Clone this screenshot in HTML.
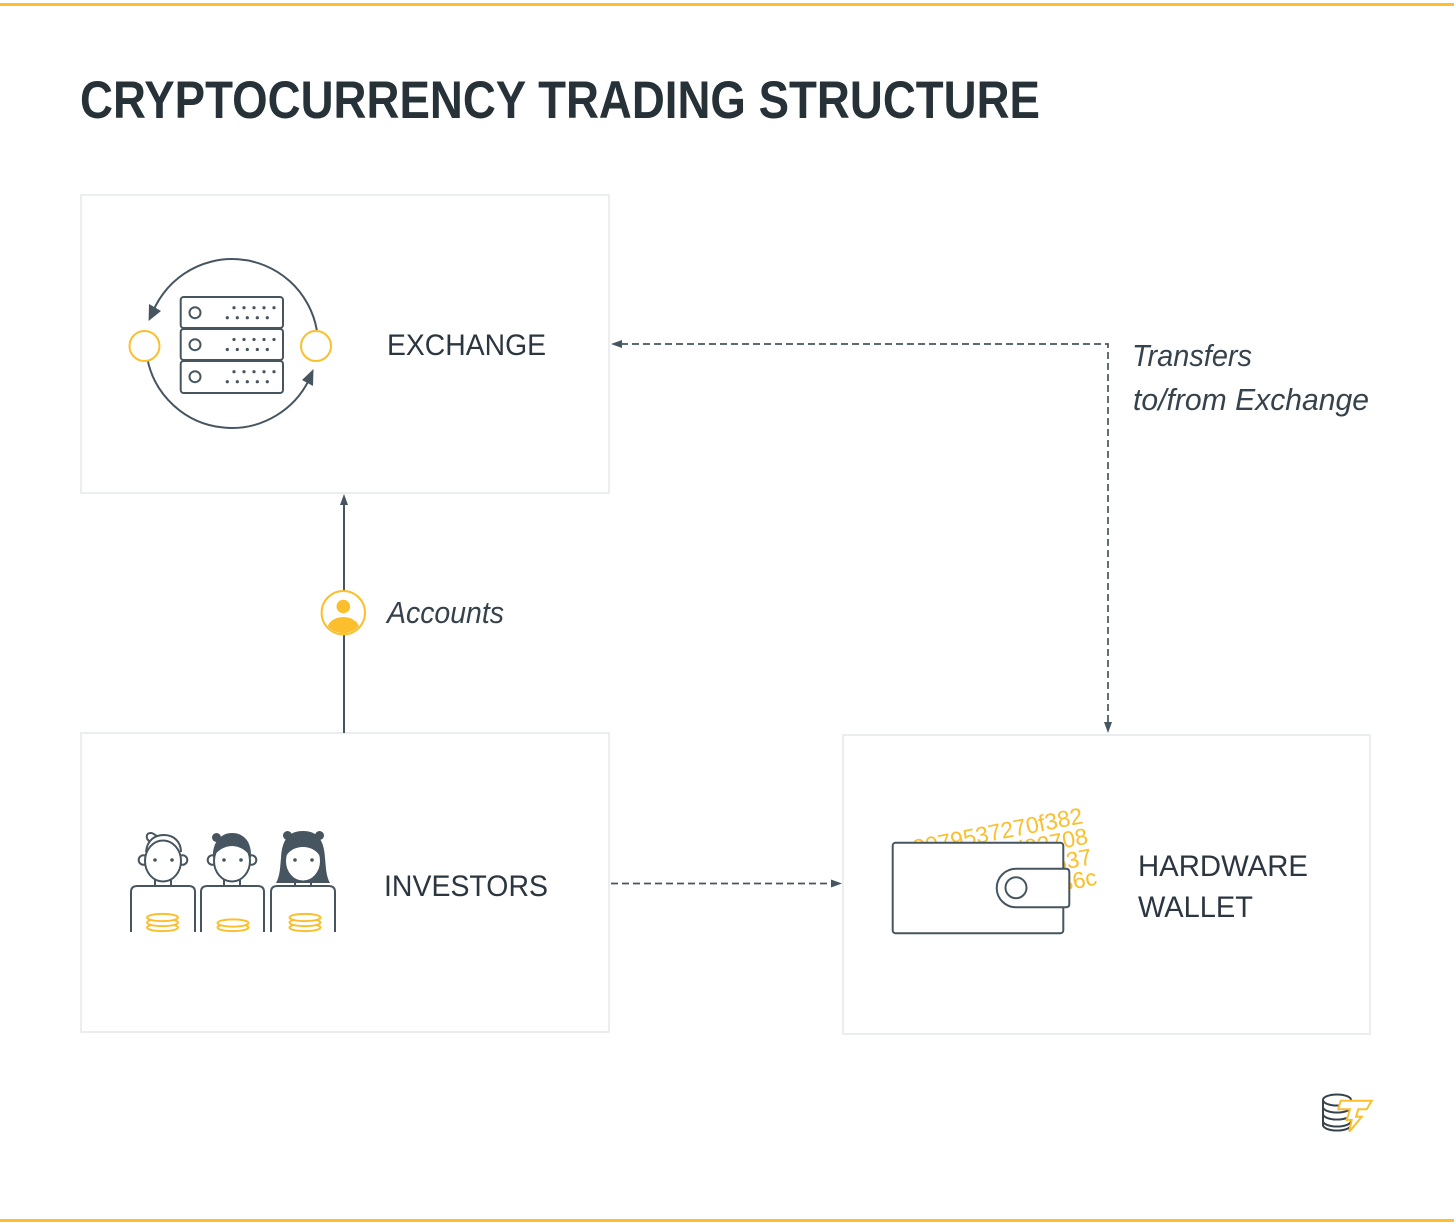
<!DOCTYPE html>
<html>
<head>
<meta charset="utf-8">
<style>
  html,body{margin:0;padding:0;background:#fff;}
  svg{display:block;}
</style>
</head>
<body>
<svg width="1454" height="1226" viewBox="0 0 1454 1226" xmlns="http://www.w3.org/2000/svg">
  <rect x="0" y="0" width="1454" height="1226" fill="#ffffff"/>
  <!-- top/bottom yellow bars -->
  <rect x="0" y="3" width="1454" height="3" fill="#fbbf2d"/>
  <rect x="0" y="1219" width="1454" height="3" fill="#fbbf2d"/>

  <!-- title -->
  <text x="80" y="118" font-family="Liberation Sans, sans-serif" font-weight="bold" font-size="53" fill="#263238" textLength="960" lengthAdjust="spacingAndGlyphs">CRYPTOCURRENCY TRADING STRUCTURE</text>

  <!-- boxes -->
  <rect x="81" y="195" width="528" height="298" fill="#fff" stroke="#e4e8ec" stroke-width="1.5"/>
  <rect x="81" y="733" width="528" height="299" fill="#fff" stroke="#e4e8ec" stroke-width="1.5"/>
  <rect x="843" y="735" width="527" height="299" fill="#fff" stroke="#e4e8ec" stroke-width="1.5"/>

  <!-- connectors -->
  <g stroke="#46555f" stroke-width="1.7" fill="none">
    <polyline points="621,344 1108,344 1108,724" stroke-dasharray="7 4"/>
    <line x1="611" y1="883.5" x2="833" y2="883.5" stroke-dasharray="7 4"/>
    <line x1="344" y1="503" x2="344" y2="591" stroke-width="2"/>
    <line x1="344" y1="635" x2="344" y2="733" stroke-width="2"/>
  </g>
  <g fill="#46555f">
    <polygon points="611,344 622,340 622,348"/>
    <polygon points="1108,733 1104,722 1112,722"/>
    <polygon points="842,883.5 831,879.5 831,887.5"/>
    <polygon points="344,494 340,505 348,505"/>
  </g>

  <!-- accounts icon -->
  <defs>
    <clipPath id="acc"><circle cx="343.3" cy="612.7" r="20.5"/></clipPath>
  </defs>
  <circle cx="343.3" cy="612.7" r="21.7" fill="#fff" stroke="#fbbf2d" stroke-width="2"/>
  <g clip-path="url(#acc)" fill="#fbbf2d">
    <circle cx="343.3" cy="606.5" r="6.8"/>
    <ellipse cx="343.3" cy="629" rx="16" ry="12"/>
  </g>

  <!-- labels -->
  <g font-family="Liberation Sans, sans-serif" fill="#2b3640">
    <text x="387" y="355" font-size="30" textLength="159" lengthAdjust="spacingAndGlyphs">EXCHANGE</text>
    <text x="384" y="896" font-size="30" textLength="164" lengthAdjust="spacingAndGlyphs">INVESTORS</text>
    <text x="1138" y="876" font-size="30" textLength="170" lengthAdjust="spacingAndGlyphs">HARDWARE</text>
    <text x="1138" y="917" font-size="30" textLength="115" lengthAdjust="spacingAndGlyphs">WALLET</text>
    <g font-style="italic" fill="#37434c">
      <text x="1132" y="366" font-size="31" textLength="120" lengthAdjust="spacingAndGlyphs">Transfers</text>
      <text x="1133" y="410" font-size="31" textLength="236" lengthAdjust="spacingAndGlyphs">to/from Exchange</text>
      <text x="387" y="623" font-size="31" textLength="117" lengthAdjust="spacingAndGlyphs">Accounts</text>
    </g>
  </g>

  <!-- exchange icon -->
  <g stroke="#46555f" stroke-width="2" fill="none">
    <path d="M316.8,330 A86 86 0 0 0 150.5,318"/>
    <path d="M147.2,358 A86 86 0 0 0 311.5,374"/>
  </g>
  <g fill="#46555f">
    <polygon points="148.6,321 149,304 161,311"/>
    <polygon points="313.5,369 313,386 302,380"/>
  </g>
  <circle cx="144.5" cy="346" r="15" fill="#fff" stroke="#fbbf2d" stroke-width="2"/>
  <circle cx="316" cy="346" r="15" fill="#fff" stroke="#fbbf2d" stroke-width="2"/>
  <g stroke="#46555f" stroke-width="2" fill="#fff">
    <rect x="180.7" y="297" width="102.3" height="31" rx="3"/>
    <rect x="180.7" y="329" width="102.3" height="31" rx="3"/>
    <rect x="180.7" y="361" width="102.3" height="32" rx="3"/>
    <circle cx="195" cy="312.7" r="5.5"/>
    <circle cx="195" cy="344.7" r="5.5"/>
    <circle cx="195" cy="376.7" r="5.5"/>
  </g>
  <g fill="#46555f">
    <circle cx="234" cy="307.7" r="1.6"/><circle cx="244" cy="307.7" r="1.6"/><circle cx="254" cy="307.7" r="1.6"/><circle cx="264" cy="307.7" r="1.6"/><circle cx="274" cy="307.7" r="1.6"/>
    <circle cx="227.3" cy="317.7" r="1.6"/><circle cx="237.3" cy="317.7" r="1.6"/><circle cx="247.3" cy="317.7" r="1.6"/><circle cx="257.3" cy="317.7" r="1.6"/><circle cx="267.3" cy="317.7" r="1.6"/>
    <circle cx="234" cy="339.5" r="1.6"/><circle cx="244" cy="339.5" r="1.6"/><circle cx="254" cy="339.5" r="1.6"/><circle cx="264" cy="339.5" r="1.6"/><circle cx="274" cy="339.5" r="1.6"/>
    <circle cx="227.3" cy="349.5" r="1.6"/><circle cx="237.3" cy="349.5" r="1.6"/><circle cx="247.3" cy="349.5" r="1.6"/><circle cx="257.3" cy="349.5" r="1.6"/><circle cx="267.3" cy="349.5" r="1.6"/>
    <circle cx="234" cy="371.7" r="1.6"/><circle cx="244" cy="371.7" r="1.6"/><circle cx="254" cy="371.7" r="1.6"/><circle cx="264" cy="371.7" r="1.6"/><circle cx="274" cy="371.7" r="1.6"/>
    <circle cx="227.3" cy="381.7" r="1.6"/><circle cx="237.3" cy="381.7" r="1.6"/><circle cx="247.3" cy="381.7" r="1.6"/><circle cx="257.3" cy="381.7" r="1.6"/><circle cx="267.3" cy="381.7" r="1.6"/>
  </g>

  <!-- investors icon -->
  <g stroke="#46555f" stroke-width="2" fill="#fff">
    <path d="M131,932 V892 Q131,886 137,886 H189 Q195,886 195,892 V932"/>
    <path d="M201,932 V892 Q201,886 207,886 H258 Q264,886 264,892 V932"/>
    <path d="M271,932 V892 Q271,886 277,886 H329 Q335,886 335,892 V932"/>
  </g>
  <!-- person 3 long hair -->
  <path d="M276,883 C280,876 280,868 281,858 C282,837 291,831 303,831 C315,831 324,837 325,858 C326,868 326,876 330,883 Z" fill="#46555f"/>
  <circle cx="287.5" cy="835.5" r="4.5" fill="#46555f"/>
  <circle cx="319.5" cy="835.5" r="4.5" fill="#46555f"/>
  <g stroke="#46555f" stroke-width="2" fill="#fff">
    <path d="M155,879 V886 M171,879 V886"/>
    <path d="M224,879 V886 M240,879 V886"/>
    <path d="M295,879 V886 M311,879 V886"/>
    <circle cx="143.5" cy="860" r="4.8"/><circle cx="182.5" cy="860" r="4.8"/>
    <circle cx="212.5" cy="860" r="4.8"/><circle cx="251.5" cy="860" r="4.8"/>
    <ellipse cx="163" cy="861" rx="18" ry="20.5"/>
    <ellipse cx="232" cy="861" rx="18" ry="20.5"/>
    <ellipse cx="303" cy="861" rx="18" ry="20.5"/>
    <path d="M146,852 C147,840 155,835 164,835 C174,835 181,842 181,852" fill="none"/>
    <path d="M150,842 C145,838 146,833 151,833 C153,833 155,835 157,836" fill="none"/>
  </g>
  <!-- person 2 hair filled -->
  <path d="M213,858 C212,842 221,833 232,833 C244,833 252,842 251,858 C247,850 239,846 232,846 C225,846 217,850 213,858 Z" fill="#46555f"/>
  <circle cx="216.5" cy="837.5" r="4.5" fill="#46555f"/>
  <!-- person 3 fringe -->
  <path d="M285,858 C286,845 294,840 303,840 C312,840 320,845 321,858 C317,850 310,847 303,847 C296,847 289,850 285,858 Z" fill="#46555f"/>
  <g fill="#46555f">
    <circle cx="155" cy="860" r="1.8"/><circle cx="172" cy="860" r="1.8"/>
    <circle cx="224" cy="860" r="1.8"/><circle cx="241" cy="860" r="1.8"/>
    <circle cx="295" cy="860" r="1.8"/><circle cx="312" cy="860" r="1.8"/>
  </g>
  <!-- coins -->
  <g stroke="#fbbf2d" stroke-width="2" fill="#fff">
    <ellipse cx="162.5" cy="927.5" rx="15.5" ry="3.6"/>
    <ellipse cx="162.5" cy="922.5" rx="15.5" ry="3.6"/>
    <ellipse cx="162.5" cy="917.5" rx="15.5" ry="3.6"/>
    <ellipse cx="233" cy="927.5" rx="15.5" ry="3.6"/>
    <ellipse cx="233" cy="923" rx="15.5" ry="3.6"/>
    <ellipse cx="305" cy="927.5" rx="15.5" ry="3.6"/>
    <ellipse cx="305" cy="922.5" rx="15.5" ry="3.6"/>
    <ellipse cx="305" cy="917.5" rx="15.5" ry="3.6"/>
  </g>

  <!-- wallet hex text -->
  <g transform="translate(1084,823) rotate(-11)" font-family="Liberation Sans, sans-serif" font-size="23" fill="#fbbf2d" text-anchor="end">
    <text x="0" y="0">3079537270f382</text>
    <text x="1" y="21">a4e19bc5d02708</text>
    <text x="1" y="42">e5b2f19d04a537</text>
    <text x="2" y="63">7c1e0f2b9d836c</text>
  </g>
  <!-- wallet -->
  <g stroke="#46555f" stroke-width="2" fill="#fff">
    <rect x="892.7" y="842.7" width="170.6" height="90.6" rx="3"/>
    <path d="M1016,868.7 H1066 Q1069.3,868.7 1069.3,872 V904 Q1069.3,907.3 1066,907.3 H1016 A19.3 19.3 0 0 1 1016,868.7 Z"/>
    <circle cx="1016" cy="887.7" r="10.5"/>
  </g>

  <!-- logo -->
  <g stroke="#37434c" stroke-width="2" fill="none">
    <ellipse cx="1337" cy="1100" rx="14" ry="5.5"/>
    <path d="M1323,1100 V1125 M1351,1100 V1125"/>
    <path d="M1323,1107 A14 5.5 0 0 0 1351,1107"/>
    <path d="M1323,1114 A14 5.5 0 0 0 1351,1114"/>
    <path d="M1323,1121 A14 5.5 0 0 0 1351,1121"/>
    <path d="M1323,1125 A14 5.5 0 0 0 1351,1125"/>
  </g>
  <polygon points="1340.7,1100.7 1371.7,1100.7 1366.7,1109.3 1358.3,1109.3 1356,1116.7 1361.7,1116.7 1349.3,1131.7 1351.7,1120 1346.7,1120 1350,1109.3 1338.3,1109.3" fill="#fff" stroke="#fbbf2d" stroke-width="2" stroke-linejoin="miter"/>
</svg>
</body>
</html>
